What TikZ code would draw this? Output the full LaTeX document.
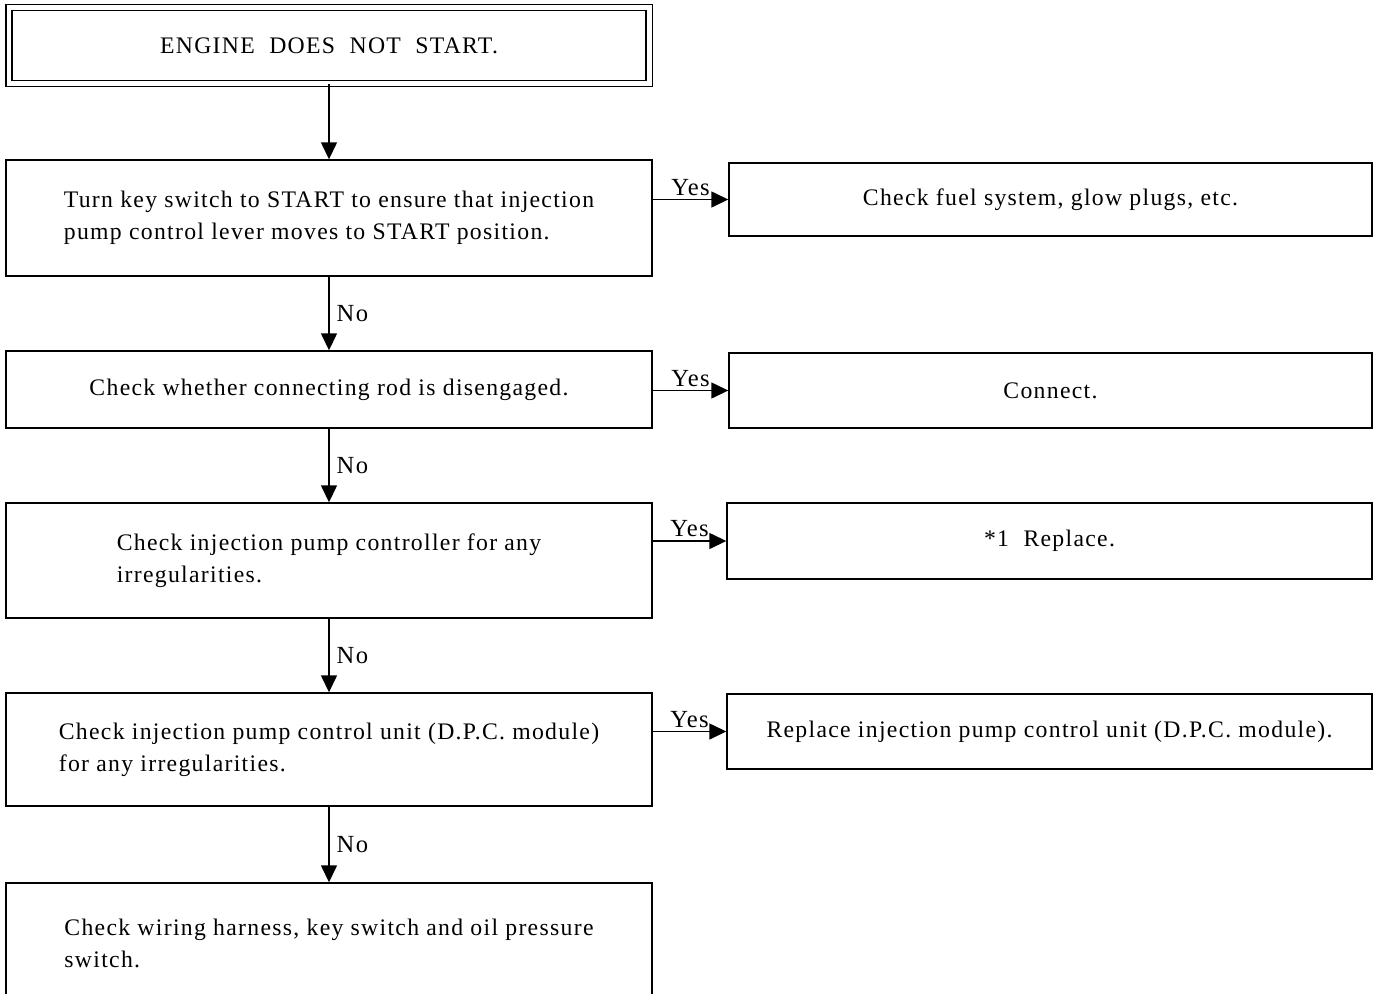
\documentclass[tikz,border=0pt]{standalone}
\usepackage{fontspec}
\setmainfont{Liberation Serif}[LetterSpace=5.5]
\usetikzlibrary{arrows.meta}

\begin{document}
\begin{tikzpicture}[x=0.02cm, y=-0.02cm,
    box/.style={draw, line width=0.8pt, rectangle, inner sep=0pt, minimum width=646*0.02cm, align=left},
    flow/.style={line width=0.8pt, -{Triangle[length=0.34cm, width=0.32cm]}},
    lbl/.style={inner sep=2pt, font=\fontsize{14}{16}\selectfont},
    font=\fontsize{13.5}{18.2}\selectfont]
    \useasboundingbox (0,0) rectangle (1373,994);

    % Start
    \node[draw, line width=0.6pt, double, double distance=0.1cm, minimum width=640*0.02cm,
          minimum height=76*0.02cm, inner sep=0pt] (start) at (329,45.5) {ENGINE\ \ DOES\ \ NOT\ \ START.};

    % Checks (left column)
    \node[box, minimum height=116*0.02cm] (keysw) at (329,218) {Turn key switch to START to ensure that injection\\pump control lever moves to START position.};
    \node[box, minimum height=77*0.02cm] (rod) at (329,389.5) {Check whether connecting rod is disengaged.};
    \node[box, minimum height=115*0.02cm] (ctrl) at (329,560.5) {Check injection pump controller for any\\irregularities.};
    \node[box, minimum height=113*0.02cm] (dpc) at (329,749.5) {Check injection pump control unit (D.P.C. module)\\for any irregularities.};
    \node[box, minimum height=120*0.02cm] (wiring) at (329,943) {Check wiring harness, key switch and oil pressure\\switch.};

    % Remedies (right column)
    \node[box, minimum width=643*0.02cm, minimum height=73*0.02cm] (fuel) at (1050.5,199.5) {Check fuel system, glow plugs, etc.};
    \node[box, minimum width=643*0.02cm, minimum height=75*0.02cm] (conn) at (1050.5,390.5) {Connect.};
    \node[box, minimum width=645*0.02cm, minimum height=76*0.02cm] (repl) at (1049.5,541) {*1\ \ Replace.};
    \node[box, minimum width=645*0.02cm, minimum height=75*0.02cm] (repdpc) at (1049.5,731.5) {Replace injection pump control unit (D.P.C. module).};

    % No arrows
    \draw[flow] (start) -- (keysw);
    \draw[flow] (keysw) -- node[lbl, right, xshift=2pt] {No} (rod);
    \draw[flow] (rod) -- node[lbl, right, xshift=2pt] {No} (ctrl);
    \draw[flow] (ctrl) -- node[lbl, right, xshift=2pt] {No} (dpc);
    \draw[flow] (dpc) -- node[lbl, right, xshift=2pt] {No} (wiring);

    % Yes arrows
    \draw[flow] (keysw.east |- fuel.west) -- node[lbl, above] {Yes} (fuel.west);
    \draw[flow] (rod.east |- conn.west) -- node[lbl, above] {Yes} (conn.west);
    \draw[flow] (ctrl.east |- repl.west) -- node[lbl, above] {Yes} (repl.west);
    \draw[flow] (dpc.east |- repdpc.west) -- node[lbl, above] {Yes} (repdpc.west);
\end{tikzpicture}
\end{document}
